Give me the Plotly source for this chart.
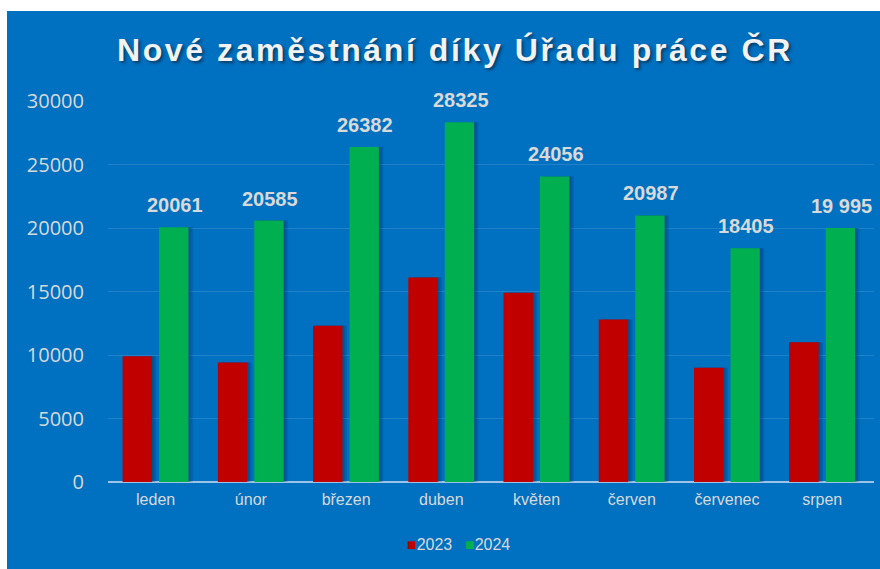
import plotly.graph_objects as go

# ---- data ----
months = ["leden", "únor", "březen", "duben", "květen", "červen", "červenec", "srpen"]
values_2023 = [9900, 9400, 12300, 16100, 14900, 12800, 9000, 11000]
values_2024 = [20061, 20585, 26382, 28325, 24056, 20987, 18405, 19995]
labels_2024 = ["20061", "20585", "26382", "28325", "24056", "20987", "18405", "19 995"]
series_names = ["2023", "2024"]
y_ticks = [0, 5000, 10000, 15000, 20000, 25000, 30000]
y_tick_labels = ["0", "5000", "10000", "15000", "20000", "25000", "30000"]
title_text = "Nové zaměstnání díky Úřadu práce ČR"

# ---- style ----
RED = "#C00000"
GREEN = "#00B050"
BLUE = "#0070C0"
TXT = "#D9D9D9"

PLOT_W = 766.0  # px of plot area
CAT_PX = PLOT_W / len(months)
BAR_W = 29.5 / CAT_PX
RED_OFF = -33.2 / CAT_PX
GREEN_OFF = 3.5 / CAT_PX

fig = go.Figure()

# soft shadows (drawn first)
for vals, off in ((values_2023, RED_OFF), (values_2024, GREEN_OFF)):
    for k in (1.5, 3.0, 4.5):
        fig.add_trace(go.Bar(
            x=months, y=vals, width=BAR_W, offset=off + k / CAT_PX,
            marker=dict(color="rgba(0,20,60,0.13)", line=dict(width=0)),
            showlegend=False, hoverinfo="skip"))

fig.add_trace(go.Bar(
    x=months, y=values_2023, name=series_names[0], width=BAR_W, offset=RED_OFF,
    marker=dict(color=RED, line=dict(width=0)), showlegend=False))
fig.add_trace(go.Bar(
    x=months, y=values_2024, name=series_names[1], width=BAR_W, offset=GREEN_OFF,
    marker=dict(color=GREEN, line=dict(width=0)), showlegend=False))

annotations = []
green_center_shift = (GREEN_OFF + BAR_W / 2) * CAT_PX
for m, v, t in zip(months, values_2024, labels_2024):
    annotations.append(dict(
        x=m, y=v, xref="x", yref="y", text=t, showarrow=False,
        xanchor="center", yanchor="bottom", xshift=green_center_shift + 1, yshift=9,
        font=dict(family="Liberation Sans, Arial", size=20, color=TXT, weight="bold")))

# custom legend: one item per series
for name, color, cx in ((series_names[0], RED, 429), (series_names[1], GREEN, 487)):
    annotations.append(dict(
        x=(cx - 108) / PLOT_W, y=(482 - 544) / 381.0, xref="paper", yref="paper",
        text=f'<span style="color:{color}">■</span>{name}', showarrow=False,
        xanchor="center", yanchor="middle",
        font=dict(family="Liberation Sans, Arial", size=16, color=TXT)))

fig.update_layout(
    width=880, height=569,
    margin=dict(l=108, r=6, t=101, b=87, pad=0),
    paper_bgcolor="white",
    plot_bgcolor="rgba(0,0,0,0)",
    barmode="overlay",
    showlegend=False,
    title=dict(
        text=f'<span style="letter-spacing:2.6px">{title_text}</span>',
        x=455 / 880, xref="container", xanchor="center",
        y=1 - 50 / 569, yref="container", yanchor="middle",
        font=dict(family="Liberation Sans, Arial", size=32, color="#F2F2F2",
                  weight="bold", shadow="2px 2px 3px rgba(0,0,0,0.45)")),
    xaxis=dict(
        type="category", showgrid=False, showline=False, ticks="",
        tickfont=dict(family="Liberation Sans, Arial", size=16, color=TXT),
        ticklabelstandoff=6, fixedrange=True),
    yaxis=dict(
        range=[0, 30000], tickvals=y_ticks, ticktext=y_tick_labels,
        showgrid=True, gridcolor="rgba(255,255,255,0.12)", gridwidth=1,
        zeroline=True, zerolinecolor="#9DC3E6", zerolinewidth=2,
        showline=False, ticks="",
        tickfont=dict(family="Open Sans, Arial", size=20, color=TXT),
        ticklabelstandoff=23, fixedrange=True),
    shapes=[dict(
        type="rect", xref="paper", yref="paper", layer="below",
        x0=(7 - 108) / PLOT_W, x1=(880 - 108) / PLOT_W,
        y0=(482 - 569) / 381.0, y1=(482 - 11) / 381.0,
        fillcolor=BLUE, line=dict(width=0))],
    annotations=annotations,
)

fig.write_html("out.html")
